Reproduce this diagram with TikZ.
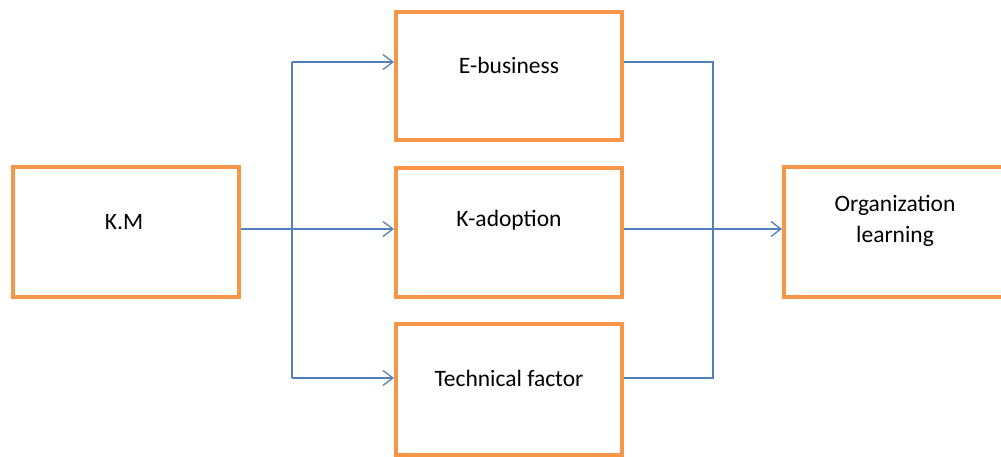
\documentclass[tikz,border=0pt]{standalone}
\usepackage{fontspec}
\setmainfont{Carlito}
\usetikzlibrary{arrows.meta}
\definecolor{boxorange}{RGB}{247,150,70}
\definecolor{lineblue}{RGB}{79,129,189}
\begin{document}
\begin{tikzpicture}[x=1pt,y=-1pt,
  box/.style={draw=boxorange,line width=4pt,minimum width=226pt,minimum height=130pt,inner sep=0pt,anchor=north west},
  lbl/.style={font=\fontsize{23.5}{31}\selectfont,text=black,align=center},
  conn/.style={draw=lineblue,line width=1.3pt},
  arr/.style={conn,-{Straight Barb[length=10pt,width=15pt,line width=1.3pt]}}]
\useasboundingbox (0,0) rectangle (1001,457);
\node[box] (km) at (11,165) {};
\node[box,minimum height=128pt] (eb) at (394,10) {};
\node[box,minimum height=129pt] (kad) at (394,166) {};
\node[box,minimum height=131pt] (tf) at (394,322) {};
\node[box] (ol) at (782,165) {};
\node[lbl] at (124,222) {K.M};
\node[lbl] at (509,65) {E-business};
\node[lbl] at (509,220) {K-adoption};
\node[lbl] at (509,378) {Technical factor};
\node[lbl] at (895,221) {Organization\\learning};
\coordinate (sT) at (292,62);
\coordinate (sB) at (292,378);
\coordinate (rT) at (713,62);
\coordinate (rB) at (713,378);
\draw[arr] (km.east |- 0,229) -- (kad.west |- 0,229);
\draw[conn] (sT) -- (sB);
\draw[arr] (sT) -- (eb.west |- sT);
\draw[arr] (sB) -- (tf.west |- sB);
\draw[conn] (eb.east |- rT) -- (rT) -- (rB) -- (tf.east |- rB);
\draw[arr] (kad.east |- 0,229) -- (ol.west |- 0,229);
\end{tikzpicture}
\end{document}
